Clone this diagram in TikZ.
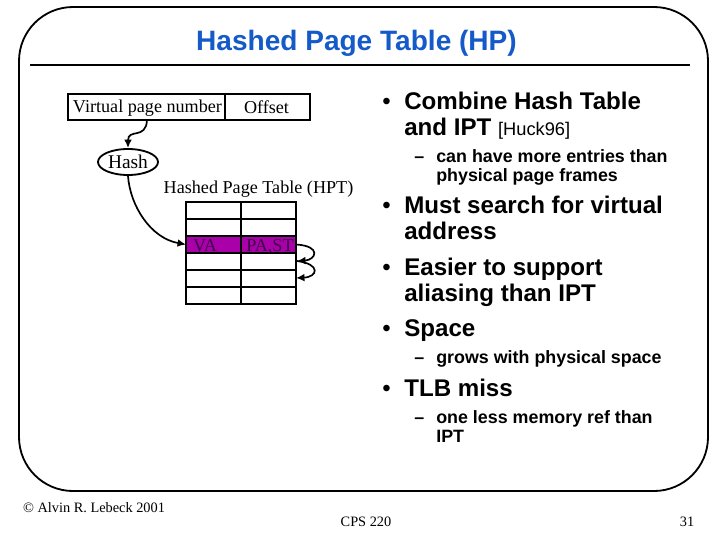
\documentclass[tikz,border=0pt]{standalone}
\usepackage{fontspec}
\setmainfont{Liberation Serif}
\setsansfont{Liberation Sans}
\usetikzlibrary{shapes.geometric,arrows.meta}
\definecolor{titleblue}{RGB}{20,90,200}
\definecolor{rowpurple}{RGB}{170,0,170}
\definecolor{rowtext}{RGB}{60,0,70}
\tikzset{
	lbl/.style={inner sep=0pt, font=\fontsize{12.9}{15}\selectfont},
	first/.style={inner sep=0pt, anchor=north west, align=left, font=\sffamily\bfseries\fontsize{17.15}{18.5}\selectfont},
	second/.style={inner sep=0pt, anchor=north west, align=left, font=\sffamily\bfseries\fontsize{12.7}{13.5}\selectfont},
	dot/.style={inner sep=0pt, anchor=north west, text height=12.4pt, font=\sffamily\fontsize{17.15}{18.5}\selectfont},
	subdash/.style={inner sep=0pt, anchor=north west, text height=9.2pt, font=\sffamily\bfseries\fontsize{12.7}{13.5}\selectfont},
	tip/.style={-{Latex[length=6pt,width=5.5pt]}, line width=1.2pt},
	rule/.style={line width=1.3pt},
}
\begin{document}
\begin{tikzpicture}[x=0.025cm, y=-0.025cm]
	%%%%% FRAME %%%%%
	\useasboundingbox (0, 0) rectangle (720, 540);
	\draw[rule, rounded corners=1.35cm] (19, 7) rectangle (708, 491);
	\draw[rule] (30, 65) -- (690, 65);
	\node[inner sep=0pt, text=titleblue, font=\sffamily\bfseries\fontsize{19.95}{22}\selectfont] (title) at (356.5, 43.5) {Hashed Page Table (HP)};

	%%%%% ADDRESS %%%%%
	\draw[rule] (68, 94) rectangle (310, 120);
	\draw[rule] (225, 94) -- (225, 120);
	\node[lbl] (vpn) at (147.5, 108.5) {Virtual page number};
	\node[lbl] (offset) at (266.5, 107) {Offset};
	\coordinate (vpnout) at (147, 120);

	%%%%% HASH %%%%%
	\node[ellipse, draw, rule, minimum width=1.5cm, minimum height=0.65cm, inner sep=0pt, font=\fontsize{13.8}{15}\selectfont] (hash) at (128, 162) {Hash};
	\draw[tip] (vpnout) .. controls (146, 140) and (128, 128) .. (hash.north);

	%%%%% TABLE %%%%%
	\node[lbl] (hpt) at (258.5, 189.5) {Hashed Page Table (HPT)};
	\fill[rowpurple] (186, 236) rectangle (296, 253);
	\draw[rule] (186, 202) rectangle (296, 304);
	\draw[rule] (241, 202) -- (241, 304);
	\foreach \y in {219, 236, 253, 270, 287} {
		\draw[rule] (186, \y) -- (296, \y);
	}
	\node[lbl, text=rowtext] (va) at (205, 245.5) {VA};
	\node[lbl, text=rowtext] (past) at (270, 246.5) {PA,ST};
	\coordinate (rowin) at (186, 244.5);
	\coordinate (rowout) at (296, 244.5);
	\coordinate (nextone) at (297, 261);
	\coordinate (nexttwo) at (296, 278);
	\draw[tip] (hash.south) .. controls (130, 205) and (150, 238) .. (rowin);
	\draw[tip] (rowout) .. controls (322, 246) and (316, 260) .. (nextone);
	\draw[tip] (nextone) .. controls (321, 264) and (318, 277) .. (nexttwo);

	%%%%% TEXT %%%%%
	\node[dot] (d1) at (382, 92) {•};
	\node[first] (t1) at (404, 92) {Combine Hash Table\\and IPT {\mdseries\fontsize{13}{13.5}\selectfont [Huck96]}};
	\node[subdash] (d2) at (414, 149) {–};
	\node[second] (t2) at (436, 149) {can have more entries than\\physical page frames};
	\node[dot] (d3) at (382, 196) {•};
	\node[first] (t3) at (404, 196) {Must search for virtual\\address};
	\node[dot] (d4) at (382, 258) {•};
	\node[first] (t4) at (404, 258) {Easier to support\\aliasing than IPT};
	\node[dot] (d5) at (382, 319) {•};
	\node[first] (t5) at (404, 319) {Space};
	\node[subdash] (d6) at (414, 350) {–};
	\node[second] (t6) at (436, 350) {grows with physical space};
	\node[dot] (d7) at (382, 379) {•};
	\node[first] (t7) at (404, 379) {TLB miss};
	\node[subdash] (d8) at (414, 410) {–};
	\node[second] (t8) at (436, 410) {one less memory ref than\\IPT};

	%%%%% FOOTER %%%%%
	\node[inner sep=0pt, font=\fontsize{10.2}{12}\selectfont] (copy) at (94, 508) {© Alvin R. Lebeck 2001};
	\node[inner sep=0pt, font=\fontsize{10.2}{12}\selectfont] (course) at (366, 522) {CPS 220};
	\node[inner sep=0pt, font=\fontsize{10.2}{12}\selectfont] (page) at (687, 522) {31};
\end{tikzpicture}
\end{document}
